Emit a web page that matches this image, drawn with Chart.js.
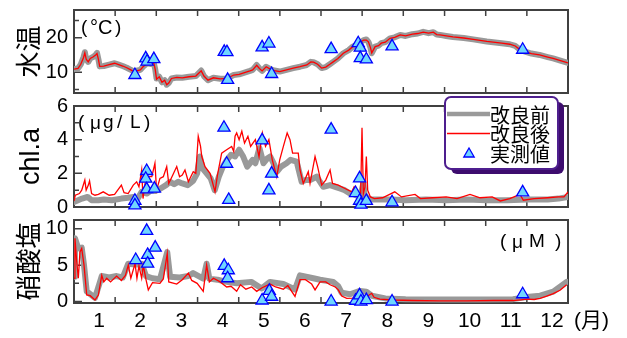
<!DOCTYPE html>
<html><head><meta charset="utf-8">
<script src="https://cdn.jsdelivr.net/npm/chart.js@4.4.1/dist/chart.umd.min.js"></script>
<style>
html,body{margin:0;padding:0;background:#fff;}
#wrap{position:relative;width:627px;height:338px;overflow:hidden;background:#fff;}
canvas{position:absolute;left:0;top:0;}
</style></head><body>
<div id="wrap">
<canvas id="c1" width="627" height="338"></canvas>
<canvas id="c2" width="627" height="338"></canvas>
<canvas id="c3" width="627" height="338"></canvas>
</div>
<script>
// ---------- data (x = day of year, y = value) ----------
const monthLabels = ['1','2','3','4','5','6','7','8','9','10','11','12'];
const monthTickDays = [30.4,60.8,91.3,121.7,152.1,182.5,212.9,243.3,273.8,304.2,334.6];
const monthLabelDays = [18.5,48.9,79.4,109.8,140.2,170.6,201,231.5,261.9,292.3,322.7,353.1];
const seriesLabels = ['改良前','改良後','実測値'];

const tempTicks = [10,20];
const tempMinorTicks = [5,25];
const chlTicks = [0,2,4,6];
const chlMinorTicks = [1,3,5];
const no3Ticks = [0,5,10];
const no3MinorTicks = [2.5,7.5];

const tempBefore = [[0,10.9],[3,11.1],[5,12.3],[7,14.3],[8,15.8],[9,13.8],[10.5,13.0],[12,14.0],[14,14.4],[16,15.0],[17,15.6],[18,13.8],[19,11.7],[22,11.8],[26,12.2],[30,12.6],[33,12.2],[36,11.8],[39,11.3],[42,10.7],[44,10.2],[47,10.5],[49,10.7],[51,11.6],[54,12.6],[57,12.4],[59,12.6],[60,10.9],[61,8.2],[63,8.7],[65,7.1],[67,7.7],[68.5,6.4],[70,6.9],[72,8.2],[76,8.5],[80,8.4],[85,8.7],[90,8.9],[94,10.5],[96,8.9],[99,7.7],[103,8.4],[108,8.1],[113,8.2],[118,9.2],[122,9.4],[126,9.9],[130,10.4],[132,10.7],[135,12.1],[137,11.1],[139,10.4],[142,11.6],[145,10.9],[148,10.5],[152,10.2],[157,10.7],[162,11.2],[167,11.6],[172,12.1],[175,13.0],[177,12.9],[180,12.3],[183,11.2],[186,11.5],[189,12.3],[191.5,13.0],[195,14.0],[199,15.5],[203,16.4],[206,17.4],[210,18.2],[214,19.3],[216,19.5],[217.5,18.8],[219,17.2],[220,15.5],[222.5,17.4],[225,17.7],[227,18.4],[230,18.7],[233.5,19.8],[237,20.1],[241,20.8],[245,20.5],[250,21.0],[254,21.2],[258,21.7],[262,21.3],[265.5,21.6],[268,20.9],[270.5,20.8],[275,20.5],[280,20.2],[288,19.9],[295,19.5],[305,18.9],[316,18.4],[322,18.1],[326,17.6],[330,16.4],[334.5,15.8],[338,15.4],[344,15.0],[350,14.4],[354,14.0],[360,13.3],[365,12.7]];
const tempAfter = [[0,10.9],[3,11.1],[5,12.3],[7,14.2],[8,15.6],[9,13.8],[10.5,13.0],[12,14.0],[14,14.4],[16,15.0],[17,15.4],[18,13.8],[19,11.7],[22,11.8],[26,12.2],[30,12.6],[33,12.2],[36,11.8],[39,11.3],[42,10.7],[44,10.2],[47,10.5],[49,10.7],[51,11.6],[54,12.5],[57,12.4],[59,12.6],[60,10.8],[61,8.0],[63,8.7],[65,7.1],[67,7.7],[68.5,6.4],[70,6.9],[72,8.2],[76,8.5],[80,8.4],[85,8.7],[90,8.9],[94,10.4],[96,8.9],[99,7.7],[103,8.4],[108,8.1],[113,8.2],[118,9.2],[122,9.4],[126,9.9],[130,10.4],[132,10.7],[135,12.0],[137,11.1],[139,10.4],[142,11.6],[145,10.9],[148,10.5],[152,10.2],[157,10.7],[162,11.2],[167,11.6],[172,12.1],[175,13.0],[177,12.9],[180,12.3],[183,11.2],[186,11.5],[189,12.3],[191.5,13.0],[195,14.0],[199,15.5],[203,16.4],[206,17.4],[210,18.2],[214,19.3],[216,19.3],[217.5,18.8],[219,17.2],[220,15.6],[222.5,17.4],[225,17.7],[227,18.4],[230,18.7],[233.5,19.8],[237,20.1],[241,20.8],[245,20.5],[250,21.0],[254,21.2],[258,21.6],[262,21.3],[265.5,21.6],[268,20.9],[270.5,20.8],[275,20.5],[280,20.2],[288,19.9],[295,19.5],[305,18.9],[316,18.4],[322,18.1],[326,17.6],[330,16.4],[334.5,15.8],[338,15.4],[344,15.0],[350,14.4],[354,14.0],[360,13.3],[365,12.7]];
const tempObs = [[45,9.2],[53,14.0],[54,13.1],[59,13.8],[111,15.9],[113,15.8],[113.5,7.8],[139,17.2],[144,18.3],[146,9.5],[190,16.7],[210,18.4],[211.5,17.1],[211.5,14.1],[216,13.7],[235,17.5],[331.5,16.5]];

const chlBefore = [[0,0.3],[3,0.4],[6,0.5],[10,0.6],[13,0.4],[18,0.4],[22,0.45],[28,0.4],[35,0.5],[40,0.55],[44,0.6],[47,0.5],[50,0.9],[54,0.8],[57,1.0],[60,0.95],[64,1.1],[68,1.3],[71,1.5],[74,1.35],[77,1.5],[80,1.4],[84,1.3],[88,1.55],[91,2.0],[93,3.0],[95,2.3],[98,2.0],[101,1.7],[104,1.0],[107,1.8],[110,2.4],[113,2.8],[116,3.1],[119,3.0],[122,3.4],[125,3.0],[128,2.4],[132,2.8],[134,2.6],[137,3.5],[140,2.6],[143,2.9],[145,3.0],[148,2.5],[150,2.1],[153,2.4],[157,2.6],[160,2.8],[164.5,2.7],[168.2,1.5],[171,1.6],[174.4,1.6],[179.3,1.8],[184.2,1.2],[189.2,1.3],[193,1.2],[196.5,1.1],[200,1.0],[203.9,0.8],[207,0.75],[211.3,0.6],[213.8,1.4],[214.8,0.7],[217,0.5],[220,0.45],[225,0.45],[235,0.45],[245,0.4],[260,0.45],[275,0.4],[290,0.45],[305,0.4],[320,0.4],[335,0.45],[350,0.45],[358,0.5],[365,0.6]];
const chlAfter = [[0,0.35],[1,0.7],[4,0.8],[5.7,1.0],[8,1.6],[9,1.0],[10.6,1.3],[11.5,1.55],[13,0.8],[15.5,0.7],[18,0.75],[21.6,0.9],[26,0.7],[30,0.75],[35,1.3],[37,0.85],[40,0.8],[43.8,1.3],[46.3,1.5],[48,1.2],[50,2.2],[51,0.5],[52.5,1.4],[55,1.8],[57.5,1.8],[59.8,2.6],[61,1.0],[63.5,1.7],[66,1.8],[68.5,2.4],[70,1.4],[73,1.9],[75.9,2.4],[78,1.8],[80,1.9],[82,2.2],[84.5,1.5],[88.1,2.1],[90,2.0],[91.8,4.2],[93.5,3.6],[94.4,3.0],[96.8,2.4],[100.5,2.0],[104.2,0.9],[106,1.9],[109.1,3.2],[112.8,3.4],[116.5,3.6],[118,3.3],[119,4.2],[120.2,4.4],[122,4.0],[124,4.5],[126,3.8],[128.5,4.2],[130.5,3.6],[134,4.0],[136.7,3.0],[139.2,4.4],[141.5,3.6],[144,4.0],[146.5,2.8],[149.8,1.8],[152,2.8],[154.7,3.6],[157.5,4.4],[159.6,4.0],[161.5,3.2],[165.7,3.2],[167,2.2],[169.4,1.4],[173.1,2.1],[174.4,1.4],[178.1,3.0],[180,2.4],[183,1.3],[186,1.6],[189.2,2.2],[191,1.4],[195.3,1.3],[200.2,1.1],[205.2,0.9],[207,1.2],[210,0.85],[211.8,0.8],[212.8,4.7],[213.8,0.8],[215,1.2],[216,3.0],[217,1.0],[219,0.6],[222,0.5],[228,0.55],[237,0.9],[242,0.6],[252,0.75],[256,0.5],[265,0.55],[275,0.6],[283,0.5],[292.6,0.75],[300,0.55],[309,0.6],[315,0.36],[322,0.5],[329.5,0.75],[332,0.4],[340,0.5],[350,0.55],[358,0.6],[362,0.6],[365,0.9]];
const chlObs = [[45,0.37],[45,0.1],[53.7,2.14],[53,1.68],[53.7,1.05],[59.4,1.09],[110.8,4.71],[112.8,2.57],[114.3,0.42],[139,3.96],[144,0.99],[146,1.98],[190,4.6],[208,0.83],[211,1.7],[211,0.37],[212,0.14],[216,0.36],[235,0.28],[331.5,0.87]];

const no3Before = [[0,3.4],[0.7,8.7],[3.2,7.3],[5.7,7.4],[7.4,5.0],[9.4,1.4],[15.5,0.5],[19.2,2.7],[20.5,3.5],[26,3.3],[31.5,3.5],[36,3.3],[40.1,5.2],[45.1,5.1],[50,5.2],[53.2,3.5],[58,3.2],[63.5,3.05],[68.9,6.8],[71,3.4],[78,3.3],[84.5,3.5],[88,3.9],[95.5,3.15],[98,5.2],[100,3.15],[106,3.0],[112.8,2.7],[120.2,2.5],[131,2.7],[138.7,1.8],[144.8,2.7],[154.7,2.4],[163.3,1.65],[167,3.6],[176.8,3.2],[181.8,3.0],[191.6,2.7],[195.3,2.1],[197.8,1.2],[203.9,1.0],[211.3,1.46],[216,1.36],[220,0.8],[223.7,0.66],[230,0.43],[245,0.33],[270,0.28],[300,0.28],[324.4,0.33],[334.5,0.61],[344.4,0.8],[354.1,1.36],[364,2.7]];
const no3After = [[0,3.2],[0.7,8.7],[2,5.5],[3.2,3.2],[4.4,6.8],[5.7,7.3],[7.4,5.0],[9.4,0.9],[12,0.8],[15.5,0.2],[18,0.9],[20.5,3.6],[22,2.7],[24.2,3.2],[27,2.7],[31.5,3.5],[35,2.9],[38,3.6],[40.1,5.0],[42,3.2],[45.1,5.2],[46.5,3.2],[48,4.9],[50,3.2],[51.2,5.0],[53.2,3.0],[54.9,1.6],[58,2.6],[63.5,2.5],[66,3.1],[68.9,6.6],[70,2.7],[75.9,2.4],[80,3.0],[84.5,3.9],[87,2.9],[91,2.5],[95.5,1.4],[98,5.0],[100,2.7],[103,3.2],[108,2.7],[112.8,2.0],[116,2.1],[120.2,1.4],[123,2.3],[127,1.7],[131.3,2.0],[135,1.4],[139,1.9],[144.8,2.4],[149,2.0],[154.7,1.7],[158,2.2],[163.3,0.7],[167,3.0],[171,3.0],[175.6,2.4],[178.1,1.6],[181.8,2.7],[186,2.7],[189.2,2.3],[193,2.0],[195.3,1.6],[197.8,0.75],[201.5,0.43],[206,0.47],[211.3,1.1],[215,0.52],[220,1.13],[221.7,0.58],[226,0.33],[236,0.21],[250,0.14],[270,0.1],[290,0.1],[310,0.14],[324.4,0.14],[330,0.24],[334.5,0.33],[340,0.28],[344.4,0.43],[349.3,0.75],[354.1,1.08],[359.1,1.55],[364,2.3]];
const no3Obs = [[45.6,5.7],[53.7,9.7],[54.4,6.4],[54.4,5.2],[60,7.4],[111,4.9],[114,4.3],[113.5,3.2],[139,0.14],[144.3,1.46],[146,0.66],[190,0.0],[208,0.11],[211,0.85],[212,0.0],[216,0.19],[235,0.0],[331.5,1.0]];

// ---------- drawing ----------
const NUM_FONT = '"Liberation Sans", Arial, sans-serif';
const CJK_FONT = '"Noto Sans CJK JP", sans-serif';
const FRAME = '#404040';
const pts = arr => arr.map(p => ({x: p[0], y: p[1]}));

const framePlugin = {
  id: 'frame',
  beforeDatasetsDraw(chart, args, o) {
    const {ctx, chartArea: a, scales: {x, y}} = chart;
    ctx.save();
    ctx.strokeStyle = FRAME;
    ctx.lineWidth = 1.5;
    ctx.beginPath();
    monthTickDays.forEach(d => {
      const px = x.getPixelForValue(d);
      ctx.moveTo(px, a.top); ctx.lineTo(px, a.top + 6);
      ctx.moveTo(px, a.bottom); ctx.lineTo(px, a.bottom - 6);
    });
    o.major.forEach(v => { const py = y.getPixelForValue(v); ctx.moveTo(a.left, py); ctx.lineTo(a.left + 8, py); });
    o.minor.forEach(v => { const py = y.getPixelForValue(v); ctx.moveTo(a.left, py); ctx.lineTo(a.left + 5, py); });
    ctx.stroke();
    ctx.lineWidth = 2;
    ctx.strokeRect(a.left, a.top, a.right - a.left, a.bottom - a.top);
    ctx.fillStyle = '#000';
    ctx.textBaseline = 'middle';
    ctx.textAlign = 'left';
    o.unit.forEach(u => {
      ctx.font = u.size + 'px ' + NUM_FONT;
      ctx.fillText(u.t, a.left + u.dx, a.top + u.dy);
    });
    ctx.restore();
  },
  afterDraw(chart, args, o) {
    const {ctx, chartArea: a} = chart;
    if (o.monthUnit) {
      ctx.save();
      ctx.fillStyle = '#000';
      ctx.textBaseline = 'middle';
      ctx.textAlign = 'left';
      ctx.font = '21px ' + NUM_FONT + ', ' + CJK_FONT;
      ctx.fillText('(月)', a.right + 6, a.bottom + 18.5);
      ctx.restore();
    }
    if (o.legend) {
      ctx.save();
      const L = 445, T = 97, W = 113, H = 72;
      ctx.fillStyle = '#3d0c6e';
      ctx.beginPath(); ctx.roundRect(L + 6, T + 5, W, H, 6); ctx.fill();
      ctx.fillStyle = '#fff';
      ctx.strokeStyle = '#4e1e8e';
      ctx.lineWidth = 2;
      ctx.beginPath(); ctx.roundRect(L, T, W, H, 6); ctx.fill(); ctx.stroke();
      ctx.lineCap = 'butt';
      ctx.strokeStyle = '#9a9a9a'; ctx.lineWidth = 4.5;
      ctx.beginPath(); ctx.moveTo(L + 2, T + 17); ctx.lineTo(L + 45, T + 17); ctx.stroke();
      ctx.strokeStyle = '#ff0000'; ctx.lineWidth = 1.3;
      ctx.beginPath(); ctx.moveTo(L + 2, T + 36.5); ctx.lineTo(L + 45, T + 36.5); ctx.stroke();
      const cx = L + 24, cy = T + 57, r = 6;
      ctx.fillStyle = '#6fd6ff'; ctx.strokeStyle = '#0000ff'; ctx.lineWidth = 1.3;
      ctx.beginPath();
      ctx.moveTo(cx, cy - r);
      ctx.lineTo(cx + r * 0.866, cy + r / 2);
      ctx.lineTo(cx - r * 0.866, cy + r / 2);
      ctx.closePath(); ctx.fill(); ctx.stroke();
      ctx.fillStyle = '#000';
      ctx.font = '20px ' + CJK_FONT;
      ctx.textBaseline = 'middle';
      ctx.textAlign = 'left';
      seriesLabels.forEach((t, i) => ctx.fillText(t, L + 45, T + 18 + i * 19.5));
      ctx.restore();
    }
  }
};

function makeChart(id, o) {
  return new Chart(document.getElementById(id), {
    type: 'line',
    data: {
      datasets: [
        { label: seriesLabels[2], type: 'scatter', data: pts(o.obs), showLine: false,
          pointStyle: 'triangle', pointRadius: 7, pointHoverRadius: 7,
          pointBackgroundColor: '#6fd6ff', pointBorderColor: '#0000ff', pointBorderWidth: 1.3,
          clip: false, order: 0 },
        { label: seriesLabels[1], data: pts(o.after), borderColor: '#ff0000', borderWidth: 1.3,
          pointRadius: 0, tension: 0, order: 1 },
        { label: seriesLabels[0], data: pts(o.before), borderColor: '#999999', borderWidth: 6,
          pointRadius: 0, tension: 0, order: 2, borderJoinStyle: 'round', borderCapStyle: 'round' }
      ]
    },
    options: {
      responsive: false, animation: false, devicePixelRatio: 1,
      events: [],
      layout: { padding: { left: 0, right: 59, top: o.top, bottom: o.bottom } },
      plugins: {
        legend: { display: false }, tooltip: { enabled: false },
        frame: { major: o.ticks, minor: o.minor, unit: o.unit, legend: !!o.legend, monthUnit: !!o.showX }
      },
      scales: {
        x: {
          type: 'linear', min: 0, max: 365, display: !!o.showX,
          grid: { display: false, drawTicks: false }, border: { display: false },
          ticks: { autoSkip: false, maxRotation: 0, padding: 6, color: '#000',
                   font: { family: NUM_FONT, size: 21 },
                   callback: (v, i) => monthLabels[i] },
          afterBuildTicks: s => { s.ticks = monthLabelDays.map(v => ({value: v})); },
          afterFit: s => { if (o.showX) { s.height = 35; } s.paddingLeft = 0; s.paddingRight = 0; }
        },
        y: {
          type: 'linear', min: o.min, max: o.max,
          grid: { display: false, drawTicks: false }, border: { display: false },
          ticks: { autoSkip: false, padding: 6, color: '#000', font: { family: NUM_FONT, size: 20 },
                   callback: v => String(v) },
          afterBuildTicks: s => { s.ticks = o.ticks.map(v => ({value: v})); },
          afterFit: s => { s.width = 74; s.paddingTop = 0; s.paddingBottom = 0; },
          title: { display: true, text: o.title, color: '#000',
                   font: { family: o.titleFont, size: o.titleSize },
                   padding: { top: o.titlePad, bottom: 0 } }
        }
      }
    },
    plugins: [framePlugin]
  });
}

makeChart('c1', {
  before: tempBefore, after: tempAfter, obs: tempObs,
  min: 4, max: 28, ticks: tempTicks, minor: tempMinorTicks,
  top: 10, bottom: 338 - 93,
  title: '水温', titleFont: CJK_FONT, titleSize: 26, titlePad: 13,
  unit: [{t: '(', dx: 7, dy: 18, size: 19}, {t: '°C', dx: 16, dy: 18, size: 20},
         {t: ')', dx: 41, dy: 18, size: 19}]
});
makeChart('c2', {
  before: chlBefore, after: chlAfter, obs: chlObs,
  min: 0, max: 6, ticks: chlTicks, minor: chlMinorTicks,
  top: 106, bottom: 338 - 207,
  title: 'chl.a', titleFont: NUM_FONT, titleSize: 27, titlePad: 15,
  unit: [{t: '(', dx: 4, dy: 17, size: 19}, {t: 'μ', dx: 16, dy: 18, size: 19},
         {t: 'g', dx: 29, dy: 17, size: 19}, {t: '/', dx: 43, dy: 17, size: 19},
         {t: 'L', dx: 56, dy: 17, size: 19}, {t: ')', dx: 70, dy: 17, size: 19}],
  legend: true
});
makeChart('c3', {
  before: no3Before, after: no3After, obs: no3Obs,
  min: -0.2, max: 11.2, ticks: no3Ticks, minor: no3MinorTicks,
  top: 220, bottom: 0, showX: true,
  title: '硝酸塩', titleFont: CJK_FONT, titleSize: 26, titlePad: 13,
  unit: [{t: '(', dx: 426, dy: 22, size: 19}, {t: 'μ', dx: 438, dy: 23, size: 19},
         {t: 'M', dx: 455, dy: 22, size: 19}, {t: ')', dx: 481, dy: 22, size: 19}]
});
</script>
</body></html>
